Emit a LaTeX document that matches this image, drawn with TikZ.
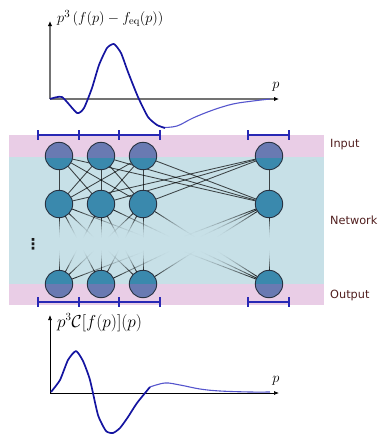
\documentclass[tikz,border=0pt]{standalone}
\usepackage{fontspec}
\newfontfamily\labfont{DejaVu Sans}
\usetikzlibrary{calc,arrows.meta}
\definecolor{bandblue}{RGB}{199,224,231}
\definecolor{bandpink}{RGB}{233,205,230}
\definecolor{neuronteal}{RGB}{58,137,173}
\definecolor{neuronpurple}{RGB}{105,122,178}
\definecolor{neuronedge}{RGB}{40,50,65}
\definecolor{intervalblue}{RGB}{40,40,180}
\definecolor{curveblue}{RGB}{20,20,160}
\definecolor{tailblue}{RGB}{85,85,205}
\definecolor{labelbrown}{RGB}{80,30,30}
\pgfdeclarelayer{back}
\pgfdeclarelayer{edges}
\pgfsetlayers{back,edges,main}
\begin{document}
\begin{tikzpicture}[x=1pt,y=-1pt,
  neuron/.style={circle,fill=neuronteal,draw=none,minimum size=27.4pt,inner sep=0pt},
  neuronline/.style={draw=neuronedge,line width=0.9pt},
  conn/.style={draw=black,opacity=0.7,line width=0.85pt},
  fadeconn/.style={draw=black,line width=0.85pt},
  interval/.style={draw=intervalblue,line width=1.1pt},
  axisA/.style={draw=black!55,line width=1.3pt,-{Latex[length=5pt,width=4.5pt,black]}},
  axisB/.style={draw=black,line width=0.7pt,-{Latex[length=5pt,width=4pt]}},
  curvemain/.style={draw=curveblue,line width=1.7pt,line join=round},
  curvetail/.style={draw=tailblue,line width=1.1pt},
  sidelabel/.style={anchor=west,text=labelbrown,font=\labfont\fontsize{11.3}{13}\selectfont,inner sep=0pt},
  mathlabel/.style={anchor=base west,inner sep=0pt}]
\useasboundingbox (0,0) rectangle (380,434);

% bands
\begin{pgfonlayer}{back}
\fill[bandblue] (9,135) rectangle (324,305);
\fill[bandpink] (9,135) rectangle (324,157);
\fill[bandpink] (9,284) rectangle (324,305);
\end{pgfonlayer}

% neurons
\foreach \n/\x in {1/59,2/101,3/143,4/269} {
  \node[neuron] (i\n) at (\x,156) {};
  \node[neuron] (h\n) at (\x,204) {};
  \node[neuron] (o\n) at (\x,284) {};
}
\begin{scope}
  \clip (9,135) rectangle (324,157);
  \foreach \n in {1,...,4} \fill[neuronpurple] (i\n.center) circle[radius=13.7pt];
\end{scope}
\begin{scope}
  \clip (9,284) rectangle (324,305);
  \foreach \n in {1,...,4} \fill[neuronpurple] (o\n.center) circle[radius=13.7pt];
\end{scope}
\foreach \n in {1,...,4} {
  \draw[neuronline] (i\n.center) circle[radius=13.7pt];
  \draw[neuronline] (h\n.center) circle[radius=13.7pt];
  \draw[neuronline] (o\n.center) circle[radius=13.7pt];
}

% connections
\begin{pgfonlayer}{edges}
\foreach \a in {1,...,4} \foreach \b in {1,...,4} \draw[conn] (i\a) -- (h\b);
\foreach \a in {1,...,4} \foreach \b in {1,...,4} {
  \coordinate (s) at ($(h\a.center)!13.7pt!(o\b.center)$);
  \coordinate (e) at ($(o\b.center)!13.7pt!(h\a.center)$);
  \foreach \k in {0,...,13} {
    \pgfmathsetmacro\ta{\k*0.03}
    \pgfmathsetmacro\tb{(\k+1)*0.03}
    \pgfmathsetmacro\op{0.9*(1-(\k+0.5)/14)^2}
    \draw[fadeconn,draw opacity=\op] ($(s)!\ta!(e)$) -- ($(s)!\tb!(e)$);
    \draw[fadeconn,draw opacity=\op] ($(e)!\ta!(s)$) -- ($(e)!\tb!(s)$);
  }
}
\end{pgfonlayer}

\node[text=black!90,inner sep=0pt] (vd) at (33,244) {\labfont\bfseries\fontsize{15}{15}\selectfont ⋮};

% intervals
\draw[interval] (38,135) -- (160,135);
\draw[interval] (248,135) -- (289,135);
\draw[interval] (38,302) -- (160,302);
\draw[interval] (248,302) -- (289,302);
\foreach \x in {38,79,119,160,248,289} {
  \draw[interval] (\x,130) -- (\x,140);
  \draw[interval] (\x,297) -- (\x,307);
}

% side labels
\node[sidelabel] (lin) at (330,145) {Input};
\node[sidelabel] (lnet) at (330,220) {Network};
\node[sidelabel] (lout) at (330,295) {Output};

% top plot
\coordinate (O1) at (50,99);
\coordinate (Y1) at (50,21);
\coordinate (X1) at (279,99);
\draw[axisA] (O1) -- (Y1);
\draw[axisA] (O1) -- (X1);
\node[mathlabel] (t1) at (57,22.3) {\fontsize{15}{18}\selectfont$p^3\left(f(p)-f_{\mathrm{eq}}(p)\right)$};
\node (p1) at (276,87) {\fontsize{15}{18}\selectfont$p$};
\draw[curvetail] plot[smooth,tension=0.6] coordinates {(163,127.5) (177,126) (193,118) (213,110) (233,104) (253,101) (270,99)};
\draw[curvemain] plot[smooth,tension=0.35] coordinates {(50,99) (62,97) (77,113) (84,108) (92,88) (99,65) (107,48) (114,44) (121,53) (128,72) (138,97) (148,117) (157,125) (165,128)};

% bottom plot
\coordinate (O2) at (50,393);
\coordinate (Y2) at (50,315);
\coordinate (X2) at (279,393);
\draw[axisB] (O2) -- (Y2);
\draw[axisB] (O2) -- (X2);
\node[mathlabel] (t2) at (57,327) {\fontsize{16}{19}\selectfont$p^3\mathcal{C}[f(p)](p)$};
\node (p2) at (276,381) {\fontsize{15}{18}\selectfont$p$};
\draw[curvetail] plot[smooth,tension=0.6] coordinates {(150,387) (165,383) (180,385) (200,389) (220,391) (250,392) (270,392)};
\draw[curvemain] plot[smooth,tension=0.35] coordinates {(51,392) (60,380) (68,360) (76,351) (83,361) (90,380) (98,415) (106,431) (113,433) (120,428) (128,417) (137,403) (150,387)};
\end{tikzpicture}
\end{document}
